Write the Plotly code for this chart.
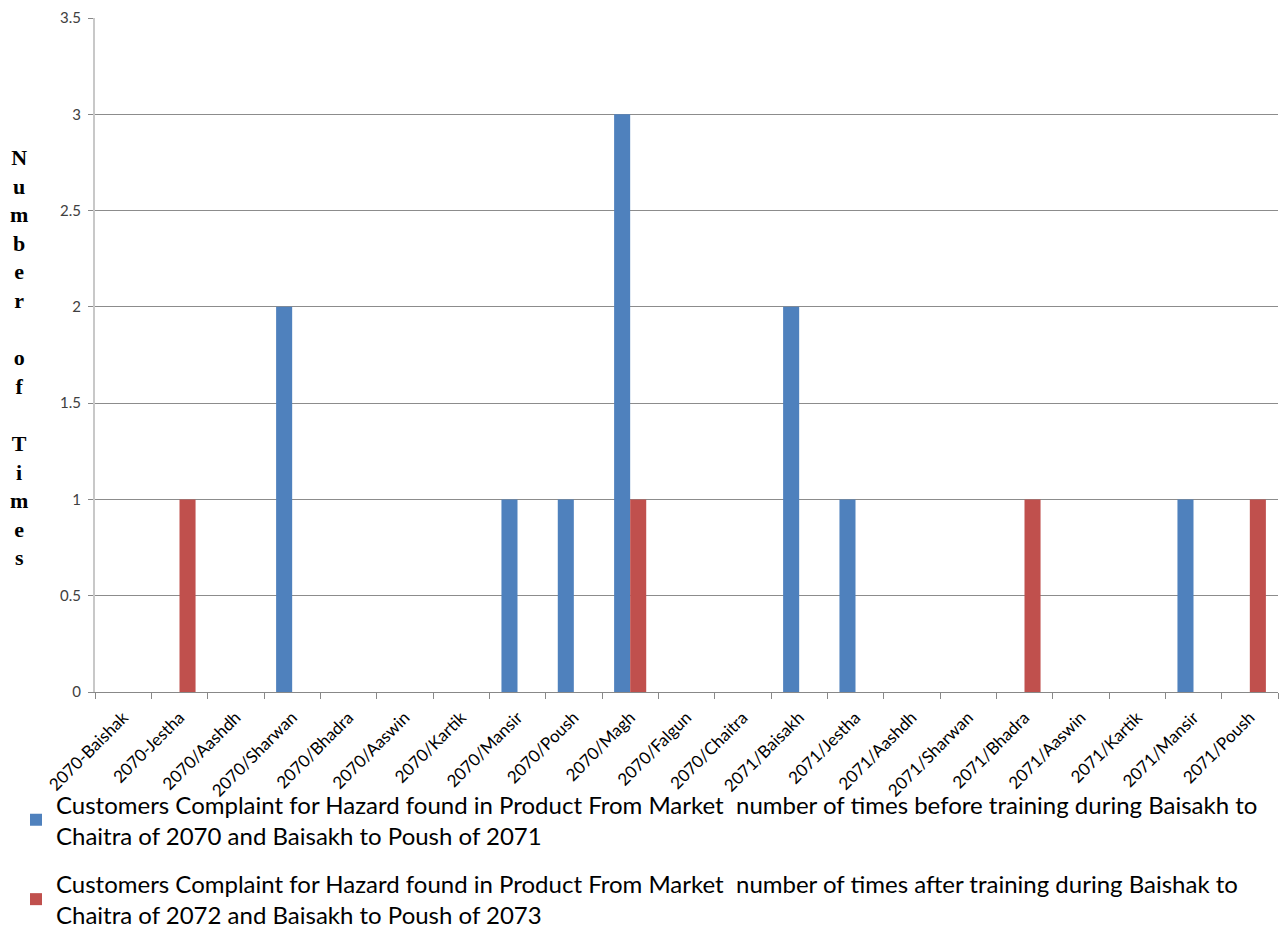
import plotly.graph_objects as go

categories = ["2070-Baishak", "2070-Jestha", "2070/Aashdh", "2070/Sharwan", "2070/Bhadra",
              "2070/Aaswin", "2070/Kartik", "2070/Mansir", "2070/Poush", "2070/Magh",
              "2070/Falgun", "2070/Chaitra", "2071/Baisakh", "2071/Jestha", "2071/Aashdh",
              "2071/Sharwan", "2071/Bhadra", "2071/Aaswin", "2071/Kartik", "2071/Mansir",
              "2071/Poush"]
before_training = [0, 0, 0, 2, 0, 0, 0, 1, 1, 3, 0, 0, 2, 1, 0, 0, 0, 0, 0, 1, 0]
after_training = [0, 1, 0, 0, 0, 0, 0, 0, 0, 1, 0, 0, 0, 0, 0, 0, 1, 0, 0, 0, 1]

name_before = ("Customers Complaint for Hazard found in Product From Market  number of times before training during Baisakh to<br>"
               "Chaitra of 2070 and Baisakh to Poush of 2071")
name_after = ("Customers Complaint for Hazard found in Product From Market  number of times after training during Baishak to<br>"
              "Chaitra of 2072 and Baisakh to Poush of 2073")
y_title = "N<br>u<br>m<br>b<br>e<br>r<br> <br>o<br>f<br> <br>T<br>i<br>m<br>e<br>s"

fig = go.Figure()
fig.add_trace(go.Bar(x=categories, y=before_training, name=name_before,
                     marker=dict(color="#4F81BD", line=dict(width=0)), legendgroup="a"))
fig.add_trace(go.Bar(x=categories, y=after_training, name=name_after,
                     marker=dict(color="#C0504D", line=dict(width=0)), legendgroup="b"))

fig.update_layout(
    width=1280, height=930,
    paper_bgcolor="white", plot_bgcolor="white",
    margin=dict(l=95, r=2, t=18, b=238, autoexpand=False),
    barmode="group", bargap=0.43, bargroupgap=0,
    font=dict(family="Lato, Open Sans, sans-serif", color="#000000"),
    showlegend=True,
    legend=dict(orientation="v", x=-0.0668, xanchor="left", y=-0.1336, yanchor="top",
                font=dict(size=24, family="Lato, sans-serif", color="#000000"),
                tracegroupgap=14, itemsizing="constant", bgcolor="rgba(0,0,0,0)"),
    xaxis=dict(type="category", tickangle=-45, tickson="boundaries",
               ticks="outside", ticklen=6, tickcolor="#888888",
               showline=True, linecolor="#888888", linewidth=1, automargin=False,
               tickfont=dict(size=17, color="#000000"), showgrid=False,
               ticklabelstandoff=8),
    yaxis=dict(range=[0, 3.5], tickvals=[0, 0.5, 1, 1.5, 2, 2.5, 3, 3.5],
               ticktext=["0", "0.5", "1", "1.5", "2", "2.5", "3", "3.5"],
               ticks="outside", ticklen=5, tickcolor="#888888", automargin=False,
               showgrid=True, gridcolor="#8c8c8c", gridwidth=1,
               showline=True, linecolor="#c8c8c8", linewidth=2, zeroline=False,
               tickfont=dict(size=15, color="#404040"), ticklabelstandoff=4),
)

fig.add_annotation(text=y_title, xref="paper", yref="paper", x=-0.064, y=0.8145,
                   xanchor="center", yanchor="top", showarrow=False, align="center",
                   font=dict(family="Liberation Serif, Times New Roman, serif", size=22,
                             color="#000000", weight="bold"))

fig.write_html("out.html")
